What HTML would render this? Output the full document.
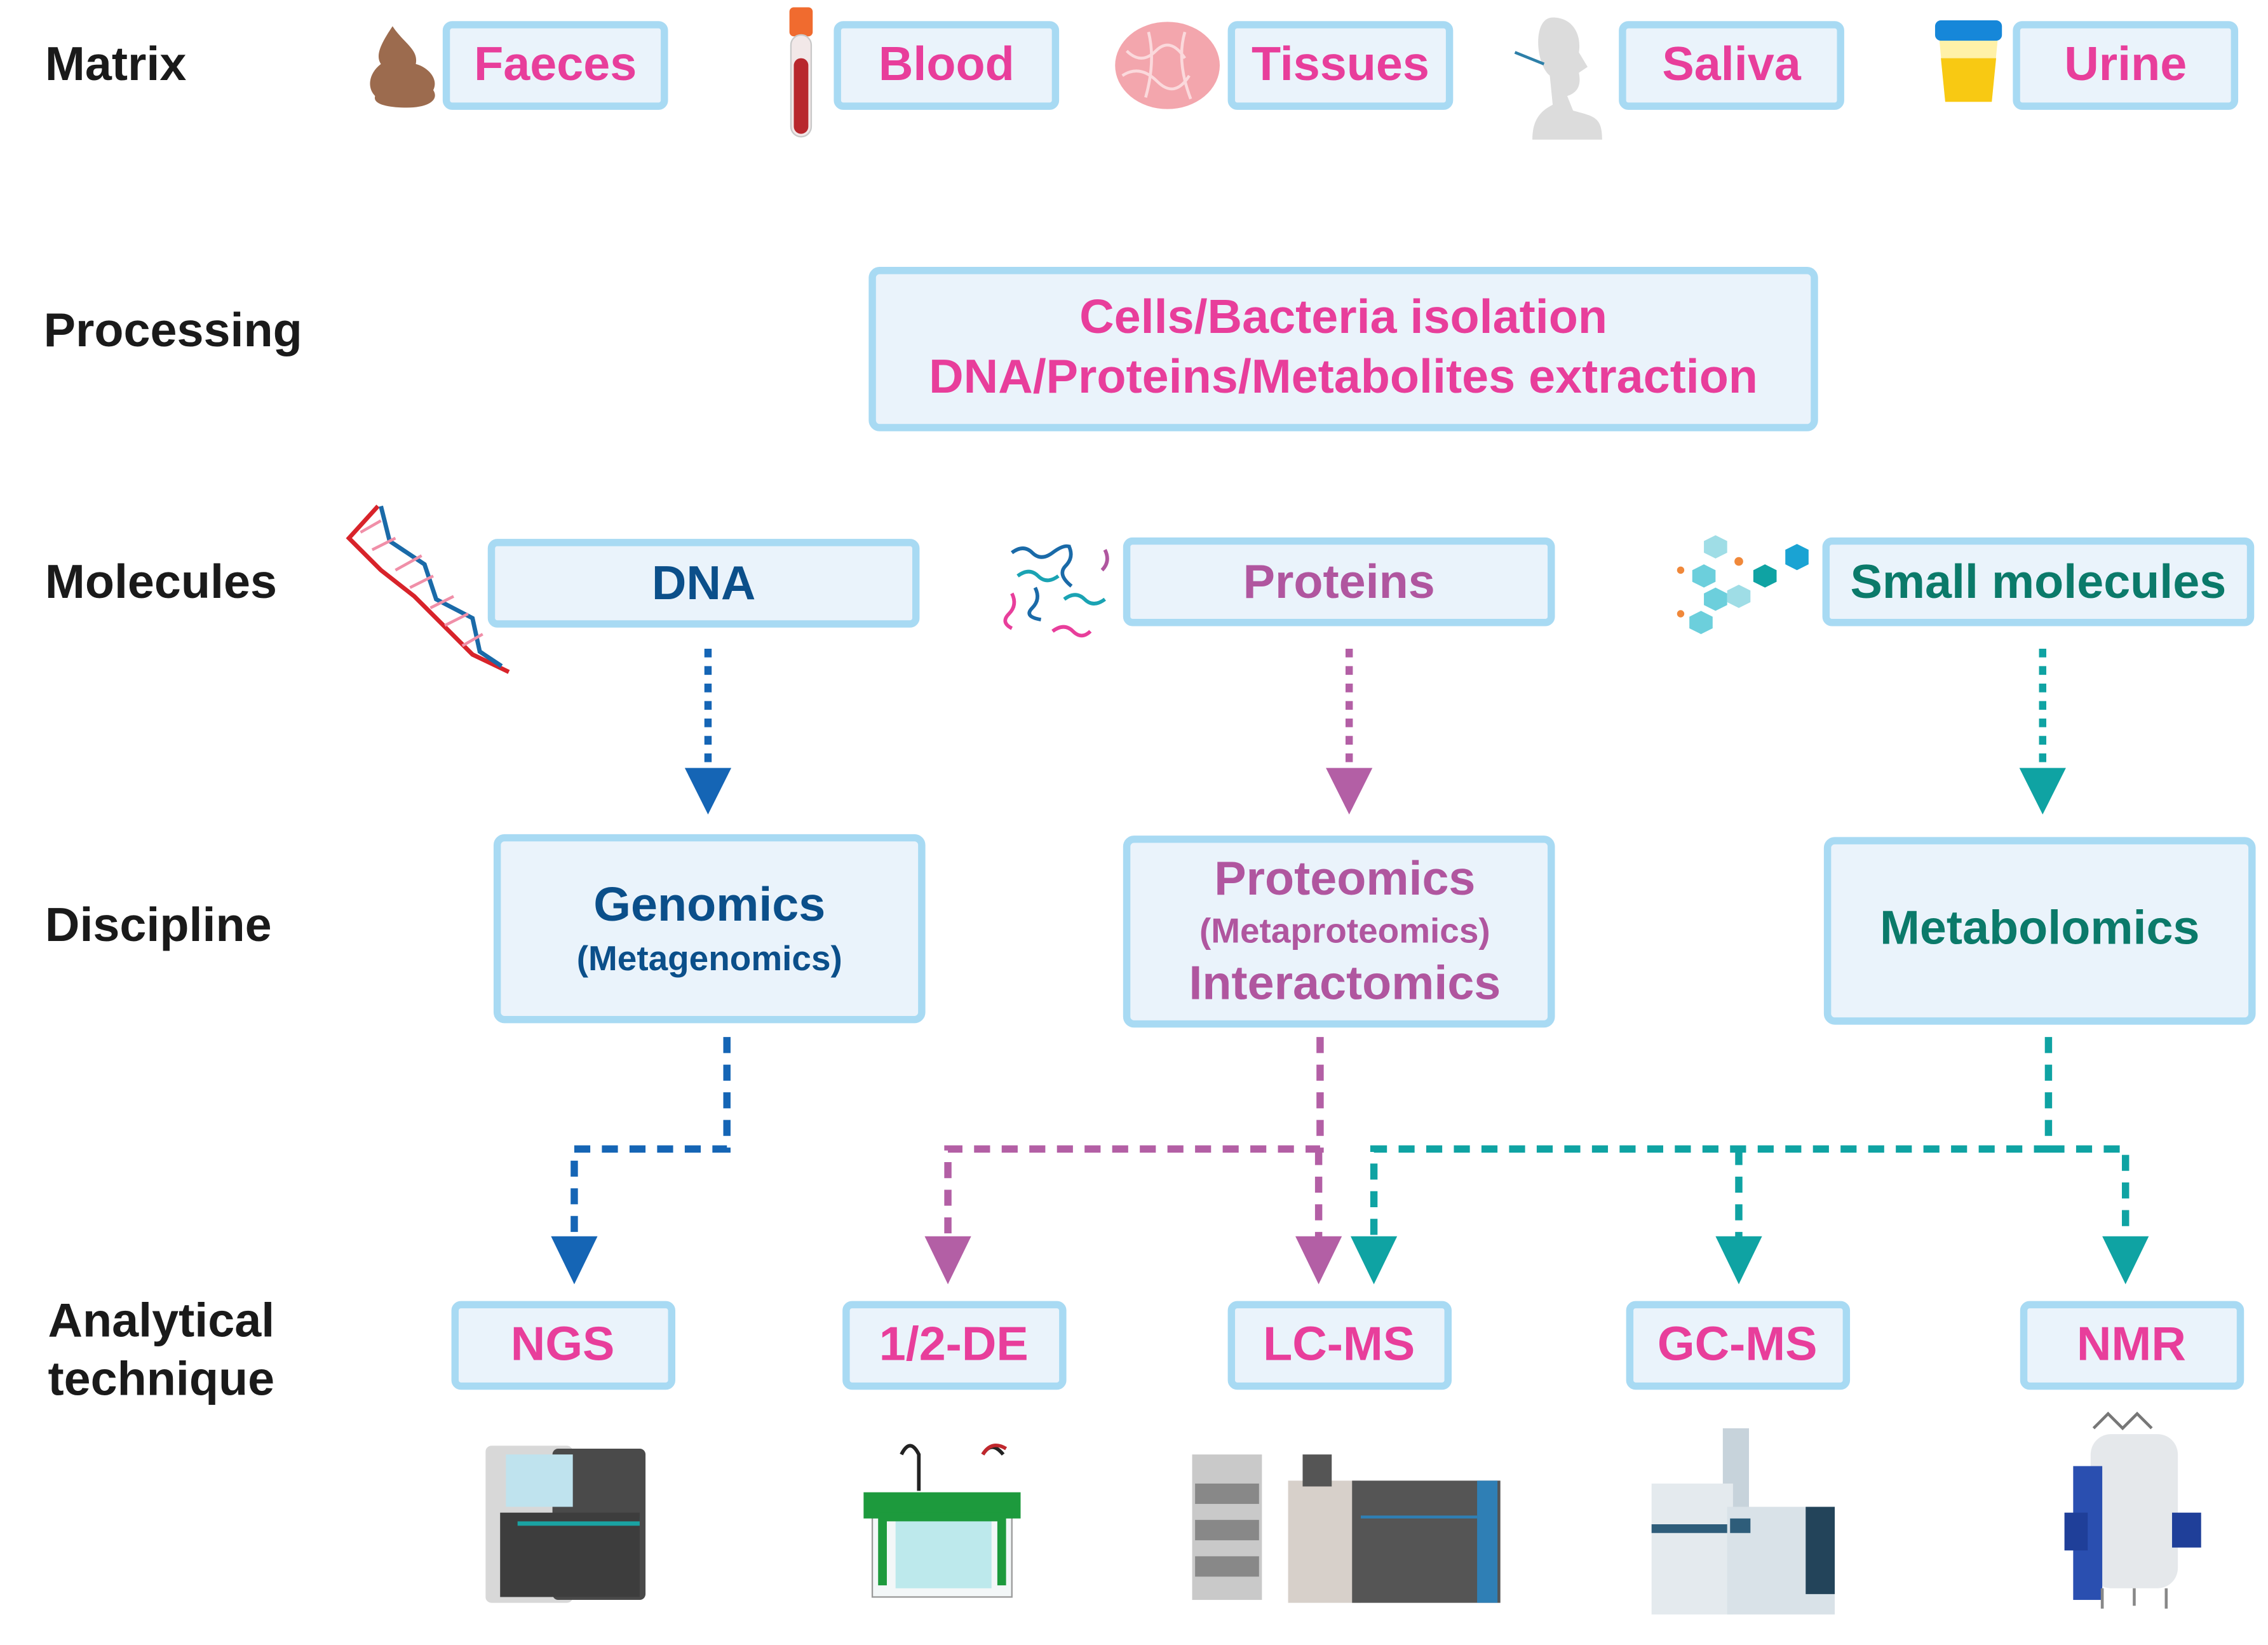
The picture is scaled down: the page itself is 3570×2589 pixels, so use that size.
<!DOCTYPE html>
<html><head><meta charset="utf-8"><style>
html,body{margin:0;padding:0;background:#fff;width:3570px;height:2589px;overflow:hidden}
svg{display:block}
text{font-family:"Liberation Sans",Arial,sans-serif;font-weight:bold}
</style></head><body>
<svg width="3570" height="2589" viewBox="0 0 1560 1131" preserveAspectRatio="none" xmlns="http://www.w3.org/2000/svg">
<defs>
<style>
.box{fill:#eaf3fb;stroke:#a8daf3;stroke-width:5}
.pk{fill:#e83e9b}
.lbl{fill:#1a1a1a;font-size:33px}
</style>
</defs>
<!-- left labels -->
<text class="lbl" x="31" y="55">Matrix</text>
<text class="lbl" x="30" y="238">Processing</text>
<text class="lbl" x="31" y="411">Molecules</text>
<text class="lbl" x="31" y="647">Discipline</text>
<text class="lbl" x="33" y="919">Analytical</text>
<text class="lbl" x="33" y="959">technique</text>

<!-- Matrix boxes -->
<g font-size="33" text-anchor="middle">
<rect class="box" x="307" y="17" width="150" height="56" rx="4"/><text class="pk" x="382" y="55">Faeces</text>
<rect class="box" x="576" y="17" width="150" height="56" rx="4"/><text class="pk" x="651" y="55">Blood</text>
<rect class="box" x="847" y="17" width="150" height="56" rx="4"/><text class="pk" x="922" y="55">Tissues</text>
<rect class="box" x="1116" y="17" width="150" height="56" rx="4"/><text class="pk" x="1191" y="55">Saliva</text>
<rect class="box" x="1387" y="17" width="150" height="56" rx="4"/><text class="pk" x="1462" y="55">Urine</text>
</g>
<!-- matrix icons -->
<path d="M270 18 C262 30 258 38 262 44 C254 50 252 60 258 66 C256 72 268 74 280 74 C296 74 302 68 298 62 C302 54 294 46 286 44 C288 34 278 30 270 18Z" fill="#9c6b4e"/>
<rect x="543" y="5" width="16" height="20" rx="3" fill="#f06b2f"/>
<rect x="544" y="24" width="14" height="70" rx="7" fill="#f2e8e8" stroke="#c9c9c9" stroke-width="1"/>
<rect x="546" y="40" width="10" height="52" rx="5" fill="#b8272d"/>
<ellipse cx="803" cy="45" rx="36" ry="30" fill="#f3a6ad"/>
<path d="M775 35 q10 10 20 0 t20 5 M772 52 q12 -8 24 4 t22 -4 M790 22 q5 20 -2 45 M815 22 q-6 20 4 46" stroke="#fbd9dc" stroke-width="2" fill="none"/>
<path d="M1068 12 c14 0 20 12 18 24 l6 10 -6 4 c2 10 -2 14 -8 16 l4 10 c14 4 20 4 20 20 l-48 0 c0 -14 6 -20 14 -24 l-2 -20 c-10 -8 -12 -40 2 -40Z" fill="#dcdcdc"/>
<path d="M1042 36 l20 8" stroke="#2d7fa8" stroke-width="2"/>
<rect x="1331" y="14" width="46" height="14" rx="4" fill="#1687d9"/>
<path d="M1334 28 h40 l-4 42 h-32 Z" fill="#fff1a8"/>
<path d="M1335 40 h38 l-3 30 h-32 Z" fill="#f8c913"/>

<!-- Processing -->
<rect class="box" x="600" y="186" width="648" height="108" rx="5"/>
<text class="pk" x="924" y="229" font-size="33" text-anchor="middle">Cells/Bacteria isolation</text>
<text class="pk" x="924" y="270" font-size="33" text-anchor="middle">DNA/Proteins/Metabolites extraction</text>

<!-- Molecules -->
<rect class="box" x="338" y="373" width="292" height="56" rx="4"/>
<text x="484" y="412" font-size="33" text-anchor="middle" fill="#0b4f8a">DNA</text>
<rect class="box" x="775" y="372" width="292" height="56" rx="4"/>
<text x="921" y="411" font-size="33" text-anchor="middle" fill="#b0569f">Proteins</text>
<rect class="box" x="1256" y="372" width="292" height="56" rx="4"/>
<text x="1402" y="411" font-size="33" text-anchor="middle" fill="#0b7a6a">Small molecules</text>
<!-- DNA icon -->
<path d="M260 348 L240 370 L262 392 L285 410 L305 430 L325 450 L350 462" stroke="#d8232a" stroke-width="3" fill="none"/>
<path d="M262 348 L268 372 L292 388 L300 412 L325 425 L330 448 L345 458" stroke="#1a6aa8" stroke-width="3" fill="none"/>
<path d="M248 366 l14 -8 M256 378 l16 -8 M272 392 l18 -10 M282 404 l16 -8 M296 418 l16 -8 M306 430 l16 -8 M318 444 l14 -8" stroke="#f08fa8" stroke-width="2"/>
<!-- protein icon -->
<g fill="none" stroke-width="2.5">
<path d="M696 380 q8 -6 14 0 t14 0 t12 -4" stroke="#1a6aa8"/>
<path d="M700 396 q8 -6 14 0 t14 0" stroke="#1aa3b3"/>
<path d="M735 375 q4 8 -2 14 t4 14" stroke="#1a6aa8"/>
<path d="M760 378 q4 8 -2 14" stroke="#b0569f"/>
<path d="M696 408 q4 8 -2 14 t2 10" stroke="#e83e9b"/>
<path d="M712 404 q4 8 -2 14 t6 8" stroke="#1a6aa8"/>
<path d="M732 412 q8 -6 14 0 t14 0" stroke="#1aa3b3"/>
<path d="M724 434 q8 -6 14 0 t12 0" stroke="#e83e9b"/>
</g>
<!-- small molecule icon -->
<g>
<polygon points="1180,368 1188,372 1188,380 1180,384 1172,380 1172,372" fill="#9fdde6"/>
<polygon points="1172,388 1180,392 1180,400 1172,404 1164,400 1164,392" fill="#6ccfdc"/>
<polygon points="1196,402 1204,406 1204,414 1196,418 1188,414 1188,406" fill="#9fdde6"/>
<polygon points="1180,404 1188,408 1188,416 1180,420 1172,416 1172,408" fill="#6ccfdc"/>
<polygon points="1170,420 1178,424 1178,432 1170,436 1162,432 1162,424" fill="#6ccfdc"/>
<polygon points="1214,388 1222,392 1222,400 1214,404 1206,400 1206,392" fill="#0fa3a3"/>
<polygon points="1236,374 1244,378 1244,388 1236,392 1228,388 1228,378" fill="#1aa3d3"/>
<circle cx="1196" cy="386" r="3" fill="#f0883a"/><circle cx="1156" cy="392" r="2.5" fill="#f0883a"/><circle cx="1156" cy="422" r="2.5" fill="#f0883a"/>
</g>

<!-- Discipline -->
<rect class="box" x="342" y="576" width="292" height="125" rx="5"/>
<text x="488" y="633" font-size="33" text-anchor="middle" fill="#0b4f8a">Genomics</text>
<text x="488" y="667" font-size="24" text-anchor="middle" fill="#0b4f8a">(Metagenomics)</text>
<rect class="box" x="775" y="577" width="292" height="127" rx="5"/>
<text x="925" y="615" font-size="33" text-anchor="middle" fill="#b0569f">Proteomics</text>
<text x="925" y="648" font-size="24" text-anchor="middle" fill="#b0569f">(Metaproteomics)</text>
<text x="925" y="687" font-size="33" text-anchor="middle" fill="#b0569f">Interactomics</text>
<rect class="box" x="1257" y="578" width="292" height="124" rx="5"/>
<text x="1403" y="649" font-size="33" text-anchor="middle" fill="#0b7a6a">Metabolomics</text>

<!-- connectors molecules -> discipline -->
<g stroke-width="5" fill="none" stroke-dasharray="6 6">
<line x1="487" y1="446" x2="487" y2="530" stroke="#1565b5"/>
<line x1="928" y1="446" x2="928" y2="530" stroke="#b35fa5"/>
<line x1="1405" y1="446" x2="1405" y2="530" stroke="#0fa3a3"/>
</g>
<polygon points="471,528 503,528 487,560" fill="#1565b5"/>
<polygon points="912,528 944,528 928,560" fill="#b35fa5"/>
<polygon points="1389,528 1421,528 1405,560" fill="#0fa3a3"/>

<!-- connectors discipline -> technique -->
<g stroke-width="5" fill="none" stroke-dasharray="11 8">
<path d="M500 713 V790 H395 V852" stroke="#1565b5"/>
<path d="M908 713 V790 H652 V852" stroke="#b35fa5"/>
<path d="M907 790 V852" stroke="#b35fa5"/>
<path d="M1409 713 V790 H945 V852 M1196 790 V852 M1409 790 H1462 V852" stroke="#0fa3a3"/>
</g>
<polygon points="379,850 411,850 395,883" fill="#1565b5"/>
<polygon points="636,850 668,850 652,883" fill="#b35fa5"/>
<polygon points="891,850 923,850 907,883" fill="#b35fa5"/>
<polygon points="929,850 961,850 945,883" fill="#0fa3a3"/>
<polygon points="1180,850 1212,850 1196,883" fill="#0fa3a3"/>
<polygon points="1446,850 1478,850 1462,883" fill="#0fa3a3"/>

<!-- Techniques -->
<g font-size="33" text-anchor="middle">
<rect class="box" x="313" y="897" width="149" height="56" rx="4"/><text class="pk" x="387" y="935">NGS</text>
<rect class="box" x="582" y="897" width="149" height="56" rx="4"/><text class="pk" x="656" y="935">1/2-DE</text>
<rect class="box" x="847" y="897" width="149" height="56" rx="4"/><text class="pk" x="921" y="935">LC-MS</text>
<rect class="box" x="1121" y="897" width="149" height="56" rx="4"/><text class="pk" x="1195" y="935">GC-MS</text>
<rect class="box" x="1392" y="897" width="149" height="56" rx="4"/><text class="pk" x="1466" y="935">NMR</text>
</g>

<!-- instrument icons -->
<rect x="334" y="994" width="60" height="108" rx="4" fill="#d8d8d8"/>
<rect x="380" y="996" width="64" height="104" rx="4" fill="#4a4a4a"/>
<rect x="348" y="1000" width="46" height="36" fill="#bfe3ee"/>
<rect x="358" y="1043" width="82" height="3" fill="#1aa3a3"/>
<rect x="344" y="1040" width="96" height="58" fill="#3d3d3d"/>
<rect x="356" y="1046" width="84" height="3" fill="#1aa3a3"/>

<path d="M620 1000 q6 -12 12 0 v25 M676 1000 q6 -10 14 0" stroke="#222" stroke-width="2.5" fill="none"/>
<path d="M676 1000 q6 -10 16 -4" stroke="#c0272d" stroke-width="2.5" fill="none"/>
<rect x="600" y="1040" width="96" height="58" fill="#f3f7f8" stroke="#999" stroke-width="1"/>
<rect x="616" y="1040" width="66" height="52" fill="#bde9ec"/>
<path d="M594 1026 h108 v18 h-108 Z" fill="#1d9a3d"/>
<path d="M604 1040 h88 v50 h-6 v-44 h-76 v44 h-6Z" fill="#1d9a3d"/>

<rect x="820" y="1000" width="48" height="100" fill="#c9c9c9"/>
<rect x="822" y="1020" width="44" height="14" fill="#888"/>
<rect x="822" y="1045" width="44" height="14" fill="#888"/>
<rect x="822" y="1070" width="44" height="14" fill="#888"/>
<rect x="886" y="1018" width="50" height="84" fill="#d7d0ca"/>
<rect x="896" y="1000" width="20" height="22" fill="#555"/>
<rect x="930" y="1018" width="102" height="84" fill="#555"/>
<rect x="1016" y="1018" width="14" height="84" fill="#2f7fb5"/>
<rect x="936" y="1042" width="80" height="2" fill="#2f7fb5"/>

<rect x="1185" y="982" width="18" height="60" fill="#c7d3db"/>
<rect x="1136" y="1020" width="56" height="90" fill="#e4eaee"/>
<rect x="1136" y="1048" width="56" height="6" fill="#2e5d7a"/>
<rect x="1188" y="1036" width="74" height="74" fill="#d9e2e8"/>
<rect x="1242" y="1036" width="20" height="60" fill="#23445a"/>
<rect x="1190" y="1044" width="14" height="10" fill="#2e5d7a"/>

<path d="M1440 982 l10 -10 l10 10 l10 -10 l10 10" stroke="#777" stroke-width="2" fill="none"/>
<rect x="1438" y="986" width="60" height="106" rx="14" fill="#e5e8eb"/>
<rect x="1426" y="1008" width="20" height="92" fill="#2a4fb0"/>
<rect x="1420" y="1040" width="16" height="26" fill="#1f3f99"/>
<rect x="1494" y="1040" width="20" height="24" fill="#1f3f99"/>
<path d="M1446 1092 v14 M1490 1092 v14 M1468 1092 v12" stroke="#888" stroke-width="2"/>
</svg>
</body></html>
